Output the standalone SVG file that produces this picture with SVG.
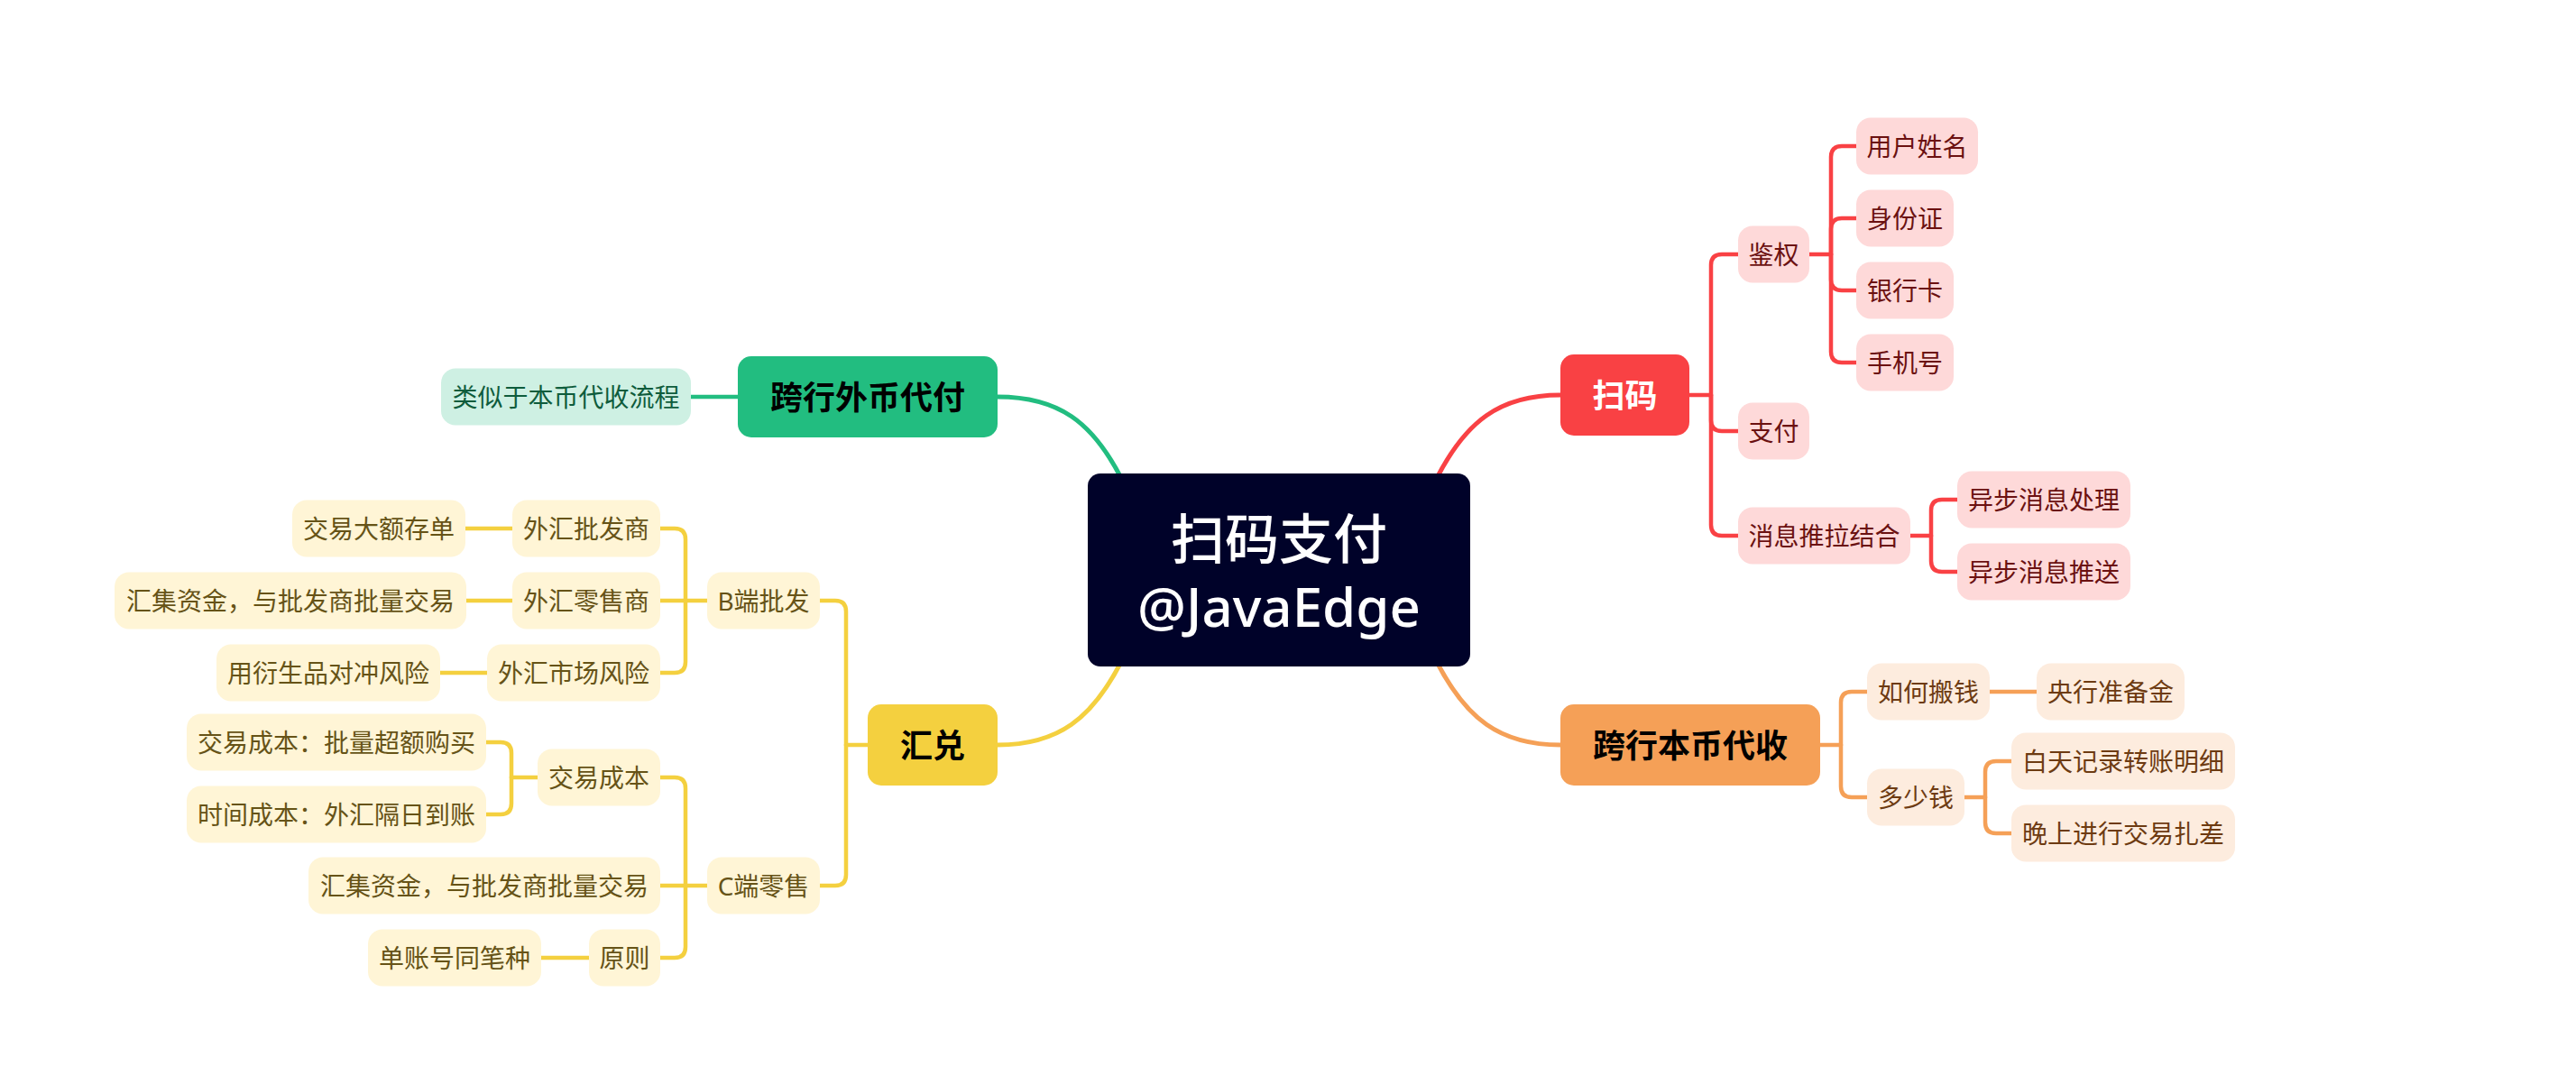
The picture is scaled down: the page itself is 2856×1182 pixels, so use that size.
<svg xmlns="http://www.w3.org/2000/svg" width="2856" height="1182" viewBox="0 0 2856 1182">
<style>
text{font-family:"Noto Sans","Noto Sans CJK SC",sans-serif;text-anchor:middle}
.t2{font-size:28px}
.t1{font-size:36px;font-weight:700}
.c{fill:none;stroke-width:4.5;stroke-linecap:round;stroke-linejoin:round}
.cm{fill:none;stroke-width:5;stroke-linecap:round}
.sr{stroke:#f94144}.so{stroke:#f5a057}.sg{stroke:#22bd80}.sy{stroke:#f4d03f}
.br{fill:#fed9d9}.bo{fill:#fdecde}.bg{fill:#cef0e3}.by{fill:#fff5d6}
.xr{fill:#6b1111}.xo{fill:#6d3b12}.xg{fill:#0e5c3c}.xy{fill:#665317}
</style>
<rect width="2856" height="1182" fill="#ffffff"/>
<g id="connectors">
<path class="cm sr" d="M1593,530 C1625,468 1662,438 1730,438"/>
<path class="cm so" d="M1593,734 C1625,796 1662,826 1730,826"/>
<path class="cm sg" d="M1243,530 C1211,468 1174,440 1106,440"/>
<path class="cm sy" d="M1243,734 C1211,796 1174,826 1106,826"/>
<g class="c sr">
<path d="M1873,438 H1897"/>
<path d="M1897,438 V294 Q1897,282 1909,282 H1927"/>
<path d="M1897,438 V466 Q1897,478 1909,478 H1927"/>
<path d="M1897,438 V582 Q1897,594 1909,594 H1927"/>
<path d="M2006,282 H2030"/>
<path d="M2030,282 V174 Q2030,162 2042,162 H2058"/>
<path d="M2030,282 V254 Q2030,242 2042,242 H2058"/>
<path d="M2030,282 V310 Q2030,322 2042,322 H2058"/>
<path d="M2030,282 V390 Q2030,402 2042,402 H2058"/>
<path d="M2118,594 H2141"/>
<path d="M2141,594 V566 Q2141,554 2153,554 H2170"/>
<path d="M2141,594 V622 Q2141,634 2153,634 H2170"/>
</g>
<g class="c so">
<path d="M2018,826 H2041"/>
<path d="M2041,826 V779 Q2041,767 2053,767 H2070"/>
<path d="M2041,826 V872 Q2041,884 2053,884 H2070"/>
<path d="M2206,767 H2258"/>
<path d="M2178,884 H2201"/>
<path d="M2201,884 V856 Q2201,844 2213,844 H2230"/>
<path d="M2201,884 V912 Q2201,924 2213,924 H2230"/>
</g>
<g class="c sg">
<path d="M818,440 H766"/>
</g>
<g class="c sy">
<path d="M962,826 H938"/>
<path d="M938,826 V678 Q938,666 926,666 H909"/>
<path d="M938,826 V970 Q938,982 926,982 H909"/>
<path d="M784,666 H760"/>
<path d="M760,666 V598 Q760,586 748,586 H732"/>
<path d="M760,666 H732"/>
<path d="M760,666 V734 Q760,746 748,746 H732"/>
<path d="M568,586 H516"/>
<path d="M568,666 H517"/>
<path d="M540,746 H488"/>
<path d="M784,982 H760"/>
<path d="M760,982 V874 Q760,862 748,862 H732"/>
<path d="M760,982 H732"/>
<path d="M760,982 V1050 Q760,1062 748,1062 H732"/>
<path d="M596,862 H567"/>
<path d="M567,862 V835 Q567,823 555,823 H539"/>
<path d="M567,862 V891 Q567,903 555,903 H539"/>
<path d="M653,1062 H600"/>
</g>
</g>
<g id="root">
<rect x="1206" y="525" width="424" height="214" rx="14" fill="#000229"/>
<text x="1418" y="620" font-size="60" font-weight="500" fill="#ffffff">扫码支付</text>
<text x="1418" y="695" font-size="60" font-weight="500" fill="#ffffff">@JavaEdge</text>
</g>
<g id="n-saoma"><rect x="1730" y="393" width="143" height="90" rx="15" fill="#f94144"/><text class="t1" x="1801.5" y="451.5" fill="#ffffff">扫码</text></g>
<g id="n-jianquan"><rect class="br" x="1927" y="250.5" width="79" height="63" rx="16"/><text class="t2 xr" x="1966.5" y="292.5">鉴权</text></g>
<g id="n-zhifu"><rect class="br" x="1927" y="446.5" width="79" height="63" rx="16"/><text class="t2 xr" x="1966.5" y="488.5">支付</text></g>
<g id="n-xiaoxi"><rect class="br" x="1927" y="562.5" width="191" height="63" rx="16"/><text class="t2 xr" x="2022.5" y="604.5">消息推拉结合</text></g>
<g id="n-yonghu"><rect class="br" x="2058" y="130.5" width="135" height="63" rx="16"/><text class="t2 xr" x="2125.5" y="172.5">用户姓名</text></g>
<g id="n-shenfen"><rect class="br" x="2058" y="210.5" width="108" height="63" rx="16"/><text class="t2 xr" x="2112" y="252.5">身份证</text></g>
<g id="n-yinhang"><rect class="br" x="2058" y="290.5" width="108" height="63" rx="16"/><text class="t2 xr" x="2112" y="332.5">银行卡</text></g>
<g id="n-shouji"><rect class="br" x="2058" y="370.5" width="108" height="63" rx="16"/><text class="t2 xr" x="2112" y="412.5">手机号</text></g>
<g id="n-chuli"><rect class="br" x="2170" y="522.5" width="192" height="63" rx="16"/><text class="t2 xr" x="2266" y="564.5">异步消息处理</text></g>
<g id="n-tuisong"><rect class="br" x="2170" y="602.5" width="192" height="63" rx="16"/><text class="t2 xr" x="2266" y="644.5">异步消息推送</text></g>
<g id="n-benbi"><rect x="1730" y="781" width="288" height="90" rx="15" fill="#f5a057"/><text class="t1" x="1874" y="839.5" fill="#000000">跨行本币代收</text></g>
<g id="n-ruhe"><rect class="bo" x="2070" y="735.5" width="136" height="63" rx="16"/><text class="t2 xo" x="2138" y="777.5">如何搬钱</text></g>
<g id="n-yanghang"><rect class="bo" x="2258" y="735.5" width="164" height="63" rx="16"/><text class="t2 xo" x="2340" y="777.5">央行准备金</text></g>
<g id="n-duoshao"><rect class="bo" x="2070" y="852.5" width="108" height="63" rx="16"/><text class="t2 xo" x="2124" y="894.5">多少钱</text></g>
<g id="n-baitian"><rect class="bo" x="2230" y="812.5" width="248" height="63" rx="16"/><text class="t2 xo" x="2354" y="854.5">白天记录转账明细</text></g>
<g id="n-wanshang"><rect class="bo" x="2230" y="892.5" width="248" height="63" rx="16"/><text class="t2 xo" x="2354" y="934.5">晚上进行交易扎差</text></g>
<g id="n-waibi"><rect x="818" y="395" width="288" height="90" rx="15" fill="#22bd80"/><text class="t1" x="962" y="453.5" fill="#000000">跨行外币代付</text></g>
<g id="n-leisi"><rect class="bg" x="489" y="408.5" width="277" height="63" rx="16"/><text class="t2 xg" x="627.5" y="450.5">类似于本币代收流程</text></g>
<g id="n-huidui"><rect x="962" y="781" width="144" height="90" rx="15" fill="#f4d03f"/><text class="t1" x="1034" y="839.5" fill="#000000">汇兑</text></g>
<g id="n-bduan"><rect class="by" x="784" y="634.5" width="125" height="63" rx="16"/><text class="t2 xy" x="846.5" y="676.5">B端批发</text></g>
<g id="n-pifa"><rect class="by" x="568" y="554.5" width="164" height="63" rx="16"/><text class="t2 xy" x="650" y="596.5">外汇批发商</text></g>
<g id="n-lingshou"><rect class="by" x="568" y="634.5" width="164" height="63" rx="16"/><text class="t2 xy" x="650" y="676.5">外汇零售商</text></g>
<g id="n-fengxian"><rect class="by" x="540" y="714.5" width="192" height="63" rx="16"/><text class="t2 xy" x="636" y="756.5">外汇市场风险</text></g>
<g id="n-dae"><rect class="by" x="324" y="554.5" width="192" height="63" rx="16"/><text class="t2 xy" x="420" y="596.5">交易大额存单</text></g>
<g id="n-huiji1"><rect class="by" x="127" y="634.5" width="390" height="63" rx="16"/><text class="t2 xy" x="322" y="676.5">汇集资金，与批发商批量交易</text></g>
<g id="n-yansheng"><rect class="by" x="240" y="714.5" width="248" height="63" rx="16"/><text class="t2 xy" x="364" y="756.5">用衍生品对冲风险</text></g>
<g id="n-cduan"><rect class="by" x="784" y="950.5" width="125" height="63" rx="16"/><text class="t2 xy" x="846.5" y="992.5">C端零售</text></g>
<g id="n-jiaoyi"><rect class="by" x="596" y="830.5" width="136" height="63" rx="16"/><text class="t2 xy" x="664" y="872.5">交易成本</text></g>
<g id="n-jiaoyi1"><rect class="by" x="207" y="791.5" width="332" height="63" rx="16"/><text class="t2 xy" x="373" y="833.5">交易成本：批量超额购买</text></g>
<g id="n-shijian"><rect class="by" x="207" y="871.5" width="332" height="63" rx="16"/><text class="t2 xy" x="373" y="913.5">时间成本：外汇隔日到账</text></g>
<g id="n-huiji2"><rect class="by" x="342" y="950.5" width="390" height="63" rx="16"/><text class="t2 xy" x="537" y="992.5">汇集资金，与批发商批量交易</text></g>
<g id="n-yuanze"><rect class="by" x="653" y="1030.5" width="79" height="63" rx="16"/><text class="t2 xy" x="692.5" y="1072.5">原则</text></g>
<g id="n-danzhang"><rect class="by" x="408" y="1030.5" width="192" height="63" rx="16"/><text class="t2 xy" x="504" y="1072.5">单账号同笔种</text></g>
</svg>
